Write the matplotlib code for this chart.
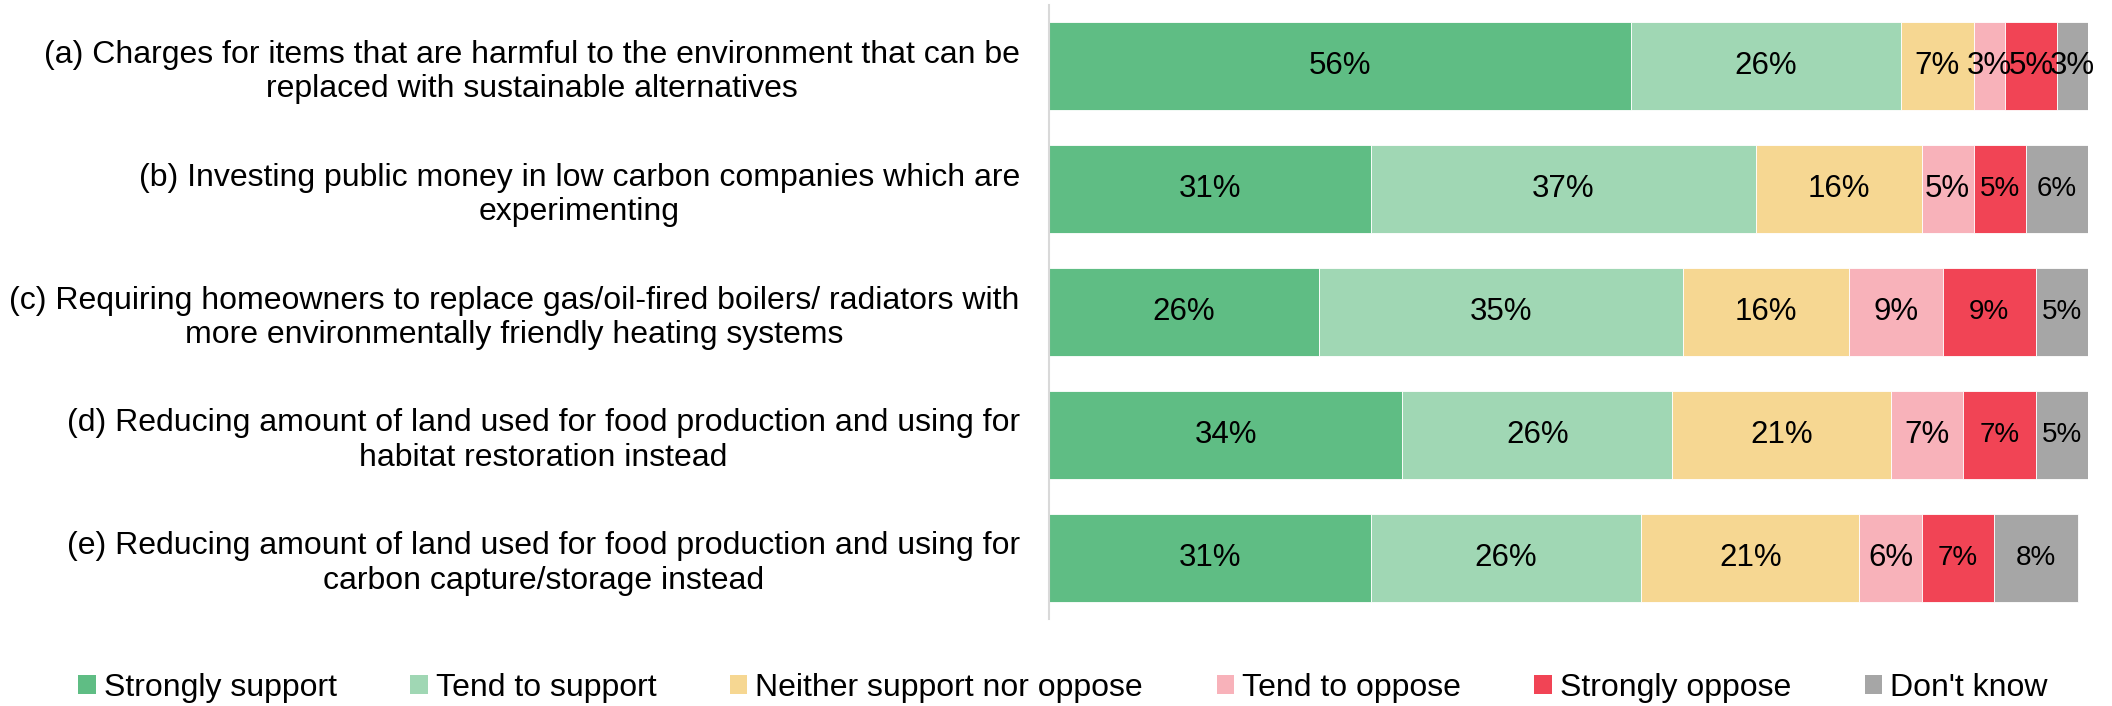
import matplotlib
matplotlib.use("Agg")
import matplotlib.pyplot as plt
from matplotlib.patches import Patch

plt.rcParams["font.family"] = ["Liberation Sans", "DejaVu Sans"]

statements = [
    "(a) Charges for items that are harmful to the environment that can be\nreplaced with sustainable alternatives",
    "(b) Investing public money in low carbon companies which are\nexperimenting",
    "(c) Requiring homeowners to replace gas/oil-fired boilers/ radiators with\nmore environmentally friendly heating systems",
    "(d) Reducing amount of land used for food production and using for\nhabitat restoration instead",
    "(e) Reducing amount of land used for food production and using for\ncarbon capture/storage instead",
]

responses = ["Strongly support", "Tend to support", "Neither support nor oppose",
             "Tend to oppose", "Strongly oppose", "Don't know"]

strongly_support = [56, 31, 26, 34, 31]
tend_to_support = [26, 37, 35, 26, 26]
neither = [7, 16, 16, 21, 21]
tend_to_oppose = [3, 5, 9, 7, 6]
strongly_oppose = [5, 5, 9, 7, 7]
dont_know = [3, 6, 5, 5, 8]

series = [strongly_support, tend_to_support, neither,
          tend_to_oppose, strongly_oppose, dont_know]
colors = ["#5FBD84", "#A0D7B4", "#F6D792", "#F8B2BA", "#F14455", "#A6A6A6"]

fig = plt.figure(figsize=(21.12, 7.06), dpi=100)
ax = fig.add_axes([1049 / 2112, 1 - 619 / 706, (2088 - 1049) / 2112, (619 - 5) / 706])

ypos = list(range(len(statements)))
left = [0] * len(statements)
for k, (vals, col) in enumerate(zip(series, colors)):
    bars = ax.barh(ypos, vals, left=left, height=0.715, color=col,
                   edgecolor="white", linewidth=0.6)
    for i, (b, v) in enumerate(zip(bars, vals)):
        small = k >= 4 and i > 0
        ax.text(left[i] + v / 2, i, f"{v}%", ha="center", va="center",
                fontsize=20 if small else 22.5, color="black")
    left = [l + v for l, v in zip(left, vals)]

ax.set_xlim(0, 100)
ax.set_ylim(len(statements) - 0.5, -0.5)
ax.set_yticks(ypos)
ax.set_yticklabels(statements, fontsize=23, multialignment="center")
ax.tick_params(axis="y", length=0, pad=21)
ax.set_xticks([])
for s in ["top", "right", "bottom"]:
    ax.spines[s].set_visible(False)
ax.spines["left"].set_color("#D9D9D9")
ax.spines["left"].set_linewidth(1.5)

handles = [Patch(facecolor=c, edgecolor="none", label=r) for c, r in zip(colors, responses)]
fig.legend(handles=handles, loc="center", bbox_to_anchor=(1063 / 2112, 1 - 688 / 706),
           ncol=6, frameon=False, fontsize=23, handlelength=0.55, handleheight=0.55,
           handletextpad=0.25, columnspacing=2.3, borderpad=0)

fig.savefig("out.png", dpi=100)
